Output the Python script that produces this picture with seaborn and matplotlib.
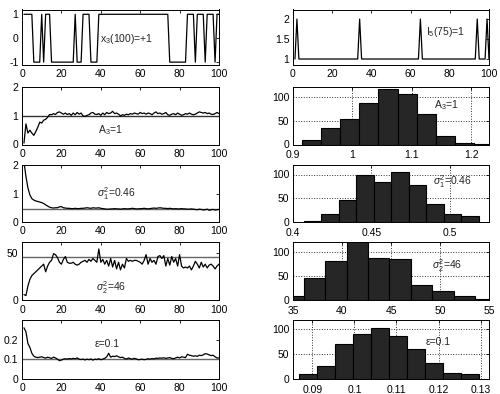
import numpy as np
import pandas as pd
import matplotlib
matplotlib.use("Agg")
import matplotlib.pyplot as plt
import seaborn as sns
from matplotlib.ticker import FuncFormatter

# ---------------- data ----------------
t = list(range(1, 101))

x3 = [1, 1, 1, 1, 1, -1, -1, -1, -1, 1,
      -1, 1, 1, 1, -1, -1, -1, -1, -1, -1,
      -1, -1, -1, -1, -1, -1, 1, -1, -1, -1,
      1, 1, 1, 1, -1, -1, -1, -1, 1, 1,
      1, 1, 1, 1, 1, 1, 1, 1, 1, 1,
      1, 1, 1, 1, 1, 1, 1, 1, 1, 1,
      1, 1, 1, 1, 1, 1, 1, 1, 1, 1,
      1, 1, 1, 1, -1, -1, -1, -1, -1, -1,
      -1, -1, -1, 1, 1, 1, 1, -1, 1, 1,
      1, 1, -1, 1, 1, 1, 1, -1, 1, 1]

I5 = [1, 2, 1, 1, 1, 1, 1, 1, 1, 1,
      1, 1, 1, 1, 1, 1, 1, 1, 1, 1,
      1, 1, 1, 1, 1, 1, 1, 1, 1, 1,
      1, 1, 1, 2, 1, 1, 1, 1, 1, 1,
      1, 1, 1, 1, 1, 1, 1, 1, 1, 1,
      1, 1, 1, 1, 1, 1, 1, 1, 1, 1,
      1, 1, 1, 1, 2, 1, 1, 1, 1, 1,
      1, 1, 1, 1, 1, 1, 1, 1, 1, 1,
      1, 1, 1, 1, 1, 1, 1, 1, 1, 1,
      1, 1, 1, 2, 1, 1, 1, 1, 2, 1]

A3_est = [0.05, 0.72, 0.4, 0.5, 0.4, 0.32, 0.45, 0.6, 0.78, 0.75,
          0.85, 0.88, 0.95, 1.05, 1.04, 1.08, 1.05, 1.12, 1.14, 1.1,
          1.06, 1.1, 1.05, 1.08, 1.02, 1.1, 1.04, 1.12, 1.06, 1.1,
          1.0, 0.98, 1.02, 1.04, 1.1, 1.12, 1.06, 1.05, 1.08, 1.02,
          1.1, 1.04, 1.12, 1.08, 1.1, 1.16, 1.08, 1.1, 1.06, 1.0,
          1.04, 1.02, 1.06, 1.04, 1.08, 1.06, 1.1, 1.08, 1.06, 1.12,
          1.08, 1.1, 1.06, 1.1, 1.08, 1.04, 1.1, 1.14, 1.08, 1.1,
          1.06, 1.08, 1.12, 1.04, 1.02, 1.06, 1.08, 1.04, 1.1, 1.06,
          1.02, 1.04, 1.08, 1.06, 1.1, 1.06, 1.04, 1.06, 1.1, 1.14,
          1.12, 1.1, 1.12, 1.08, 1.1, 1.06, 1.05, 1.08, 1.12, 1.08]

s1_est = [2.1, 1.6, 1.2, 0.95, 0.82, 0.77, 0.74, 0.72, 0.7, 0.68,
          0.65, 0.6, 0.56, 0.52, 0.5, 0.49, 0.5, 0.5, 0.53, 0.54,
          0.5, 0.49, 0.48, 0.48, 0.47, 0.47, 0.48, 0.47, 0.47, 0.48,
          0.48, 0.49, 0.5, 0.49, 0.48, 0.5, 0.49, 0.49, 0.5, 0.48,
          0.47, 0.46, 0.45, 0.45, 0.46, 0.46, 0.47, 0.46, 0.46, 0.45,
          0.46, 0.47, 0.46, 0.46, 0.47, 0.48, 0.47, 0.46, 0.46, 0.47,
          0.47, 0.48, 0.47, 0.46, 0.47, 0.48, 0.49, 0.48, 0.49, 0.5,
          0.49, 0.48, 0.48, 0.47, 0.48, 0.47, 0.46, 0.47, 0.46, 0.46,
          0.47, 0.46, 0.46, 0.45, 0.45, 0.46, 0.45, 0.44, 0.43, 0.45,
          0.44, 0.42, 0.43, 0.45, 0.41, 0.43, 0.44, 0.42, 0.43, 0.44]

s2_est = [6, 5, 15, 22, 26, 28, 30, 32, 34, 36,
          38, 30, 36, 40, 42, 49, 48, 45, 40, 38,
          43, 46, 40, 39, 39, 40, 38, 37, 38, 40,
          41, 42, 40, 43, 41, 44, 42, 40, 54, 40,
          43, 38, 42, 36, 44, 35, 42, 33, 40, 32,
          38, 34, 44, 41, 42, 41, 42, 42, 41, 40,
          38, 42, 48, 38, 44, 40, 42, 38, 46, 47,
          44, 47, 36, 44, 37, 46, 40, 44, 36, 48,
          36, 34, 35, 34, 36, 32, 36, 41, 38, 34,
          40, 35, 38, 34, 37, 38, 36, 33, 36, 38]

eps_est = [0.26, 0.24, 0.18, 0.16, 0.13, 0.115, 0.11, 0.108, 0.11, 0.112,
           0.108, 0.105, 0.11, 0.107, 0.104, 0.11, 0.106, 0.1, 0.092, 0.095,
           0.1, 0.102, 0.1, 0.103, 0.101, 0.104, 0.102, 0.106, 0.1, 0.098,
           0.1, 0.096, 0.1, 0.097, 0.101, 0.095, 0.1, 0.098, 0.102, 0.097,
           0.1, 0.104, 0.112, 0.13, 0.11, 0.115, 0.113, 0.117, 0.112, 0.108,
           0.11, 0.104, 0.1, 0.106, 0.102, 0.1, 0.104, 0.101, 0.097, 0.098,
           0.1, 0.097, 0.099, 0.102, 0.1, 0.103, 0.101, 0.105, 0.104, 0.106,
           0.105, 0.107, 0.104, 0.106, 0.108, 0.104, 0.102, 0.106, 0.11, 0.106,
           0.112, 0.11, 0.108, 0.125, 0.12, 0.118, 0.115, 0.117, 0.114, 0.12,
           0.118, 0.122, 0.128, 0.126, 0.122, 0.118, 0.12, 0.112, 0.106, 0.106]

A3_true, s1_true, s2_true, eps_true = 1.0, 0.46, 46.0, 0.1

# histograms (bin start, bin width, counts)
hA3_start, hA3_width = 0.915, 0.0322
hA3_counts = [10, 35, 53, 87, 117, 105, 63, 17, 4, 1]
hs1_start, hs1_width = 0.4069, 0.01115
hs1_counts = [3, 17, 47, 99, 85, 105, 77, 37, 17, 12]
hs2_start, hs2_width = 33.94, 2.18
hs2_counts = [10, 46, 81, 125, 88, 87, 32, 20, 8, 2]
heps_start, heps_width = 0.08683, 0.00429
heps_counts = [10, 25, 70, 90, 102, 85, 60, 32, 12, 9]

# ---------------- style ----------------
sns.set_theme(style="white")
plt.rcParams["font.family"] = ["Liberation Sans", "DejaVu Sans"]
plt.rcParams["mathtext.fontset"] = "custom"
plt.rcParams["mathtext.rm"] = "Liberation Sans"
plt.rcParams["mathtext.it"] = "Liberation Sans:italic"
plt.rcParams["mathtext.bf"] = "Liberation Sans:bold"

TICK_FS = 7.5
ANN_FS = 7.5

fig = plt.figure(figsize=(5.0, 3.94), dpi=100)
W, H = 500.0, 394.0
rows_px = [(9.5, 65.0), (87.3, 144.5), (165.0, 222.0), (242.3, 300.3), (320.0, 378.7)]
cols_px = [(22.0, 219.0), (293.0, 489.0)]


def make_ax(r, c):
    top, bot = rows_px[r]
    l, rr = cols_px[c]
    return fig.add_axes([l / W, 1 - bot / H, (rr - l) / W, (bot - top) / H])


fmt = FuncFormatter(lambda v, p: "%g" % v)


def style(ax, xticks, yticks, xlim, ylim, grid=False):
    ax.set_xlim(*xlim)
    ax.set_ylim(*ylim)
    ax.set_xticks(xticks)
    ax.set_yticks(yticks)
    ax.xaxis.set_major_formatter(fmt)
    ax.yaxis.set_major_formatter(fmt)
    ax.tick_params(direction="in", top=True, right=True, length=2.5, width=0.6,
                   labelsize=TICK_FS, colors="black")
    ax.tick_params(axis="x", pad=3.2 if not grid else 4.2)
    ax.tick_params(axis="y", pad=2.5)
    for s in ax.spines.values():
        s.set_visible(True)
        s.set_color("black")
        s.set_linewidth(0.7)
    ax.set_xlabel("")
    ax.set_ylabel("")
    if grid:
        ax.grid(True, linestyle=":", color="#333333", linewidth=0.7)
        ax.set_axisbelow(True)
    else:
        ax.grid(False)


def line_panel(ax, vals, ref=None, refcolor="#666666"):
    df = pd.DataFrame({"t": t[:len(vals)], "v": vals})
    if ref is not None:
        ax.axhline(ref, color=refcolor, linewidth=1.0, zorder=1)
    sns.lineplot(data=df, x="t", y="v", ax=ax, color="black", linewidth=0.9, zorder=2)


def hist_panel(ax, start, width, counts):
    n = len(counts)
    edges = [start + width * i for i in range(n + 1)]
    centers = [start + width * (i + 0.5) for i in range(n)]
    sns.histplot(x=centers, weights=counts, bins=edges, ax=ax, stat="count",
                 color="#262626", edgecolor="black", linewidth=0.8, alpha=1.0)


tx = [0, 20, 40, 60, 80, 100]

# Row 1
ax = make_ax(0, 0)
line_panel(ax, x3)
style(ax, tx, [-1, 0, 1], (0, 100), (-1.12, 1.2))
ax.text(39.5, -0.05, r"x$_3$(100)=+1", fontsize=ANN_FS, va="center", ha="left")

ax = make_ax(0, 1)
line_panel(ax, I5)
style(ax, tx, [1, 1.5, 2], (0, 100), (0.85, 2.24))
ax.text(68, 1.67, r"I$_5$(75)=1", fontsize=ANN_FS, va="center", ha="left")

# Row 2
ax = make_ax(1, 0)
line_panel(ax, A3_est, A3_true, refcolor="#333333")
style(ax, tx, [0, 1, 2], (0, 100), (0, 2))
ax.text(38.5, 0.52, r"A$_3$=1", fontsize=ANN_FS, va="center", ha="left")

ax = make_ax(1, 1)
hist_panel(ax, hA3_start, hA3_width, hA3_counts)
style(ax, [0.9, 1.0, 1.1, 1.2], [0, 50, 100], (0.902, 1.23), (0, 120), grid=True)
ax.text(1.138, 82, r"A$_3$=1", fontsize=ANN_FS, va="center", ha="left")

# Row 3
ax = make_ax(2, 0)
line_panel(ax, s1_est, s1_true)
style(ax, tx, [0, 1, 2], (0, 100), (0, 2))
ax.text(38, 1.0, r"$\sigma_1^2$=0.46", fontsize=ANN_FS, va="center", ha="left")

ax = make_ax(2, 1)
hist_panel(ax, hs1_start, hs1_width, hs1_counts)
style(ax, [0.4, 0.45, 0.5], [0, 50, 100], (0.4015, 0.525), (0, 120), grid=True)
ax.text(0.4895, 84, r"$\sigma_1^2$=0.46", fontsize=ANN_FS, va="center", ha="left")

# Row 4
ax = make_ax(3, 0)
line_panel(ax, s2_est, s2_true)
style(ax, tx, [0, 50], (0, 100), (0, 61))
ax.text(37.5, 13, r"$\sigma_2^2$=46", fontsize=ANN_FS, va="center", ha="left")

ax = make_ax(3, 1)
hist_panel(ax, hs2_start, hs2_width, hs2_counts)
style(ax, [35, 40, 45, 50, 55], [0, 50, 100], (35, 55), (0, 121), grid=True)
ax.text(49.2, 72, r"$\sigma_2^2$=46", fontsize=ANN_FS, va="center", ha="left")

# Row 5
ax = make_ax(4, 0)
line_panel(ax, eps_est, eps_true)
style(ax, tx, [0, 0.1, 0.2], (0, 100), (0, 0.3))
ax.text(37, 0.178, "ε=0.1", fontsize=ANN_FS, va="center", ha="left")

ax = make_ax(4, 1)
hist_panel(ax, heps_start, heps_width, heps_counts)
style(ax, [0.09, 0.1, 0.11, 0.12, 0.13], [0, 50, 100], (0.0854, 0.132), (0, 118), grid=True)
ax.text(0.1169, 74, "ε=0.1", fontsize=ANN_FS, va="center", ha="left")

fig.savefig("out.png", dpi=100, facecolor="white")
